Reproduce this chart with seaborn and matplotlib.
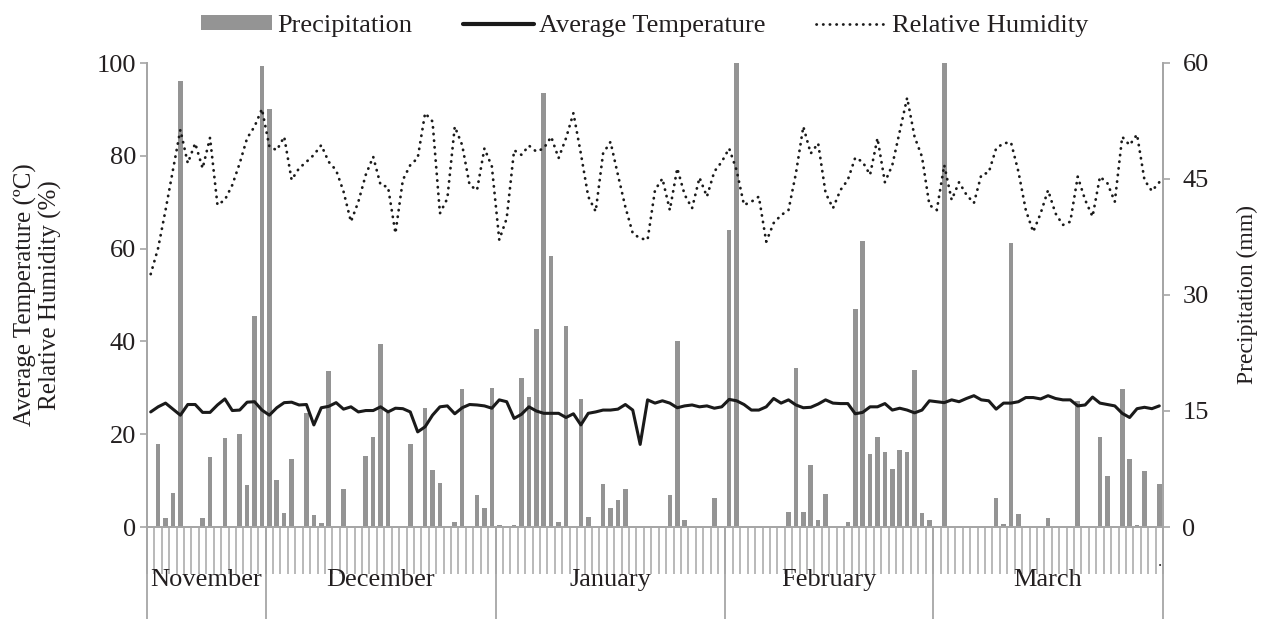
import numpy as np
import pandas as pd
import matplotlib
matplotlib.use("Agg")
import matplotlib.pyplot as plt
import seaborn as sns
from matplotlib.patches import Patch
from matplotlib.lines import Line2D

# ---------------- data ----------------
months = ["November", "December", "January", "February", "March"]
month_days = [16, 31, 31, 28, 31]  # 15 Nov .. 31 Mar

precipitation = [
    0, 10.7, 1.1, 4.4, 57.7, 0, 0, 1.1, 9.1, 0, 11.5, 0, 12.0, 5.4, 27.3, 59.6,
    54.1, 6.1, 1.8, 8.8, 0, 14.8, 1.5, 0.5, 20.2, 0, 4.9, 0, 0, 9.2, 11.6, 23.7,
    14.8, 0, 0, 10.7, 0, 15.4, 7.4, 5.7, 0, 0.6, 17.9, 0, 4.2, 2.5, 18.0,
    0.3, 0, 0.2, 19.3, 16.8, 25.6, 56.1, 35.0, 0.7, 26.0, 0, 16.6, 1.3, 0, 5.6,
    2.5, 3.5, 4.9, 0, 0, 0, 0, 0, 4.2, 24.1, 0.9, 0, 0, 0, 3.8, 0,
    38.4, 62.0, 0, 0, 0, 0, 0, 0, 2.0, 20.5, 1.9, 8.0, 0.9, 4.3, 0, 0,
    0.6, 28.2, 37.0, 9.4, 11.6, 9.7, 7.5, 10.0, 9.7, 20.3, 1.8, 0.95,
    0.15, 62.0, 0, 0.1, 0, 0, 0, 0, 3.8, 0.4, 36.7, 1.7, 0, 0, 0, 1.1, 0, 0, 0,
    16.3, 0, 0, 11.6, 6.6, 0, 17.9, 8.8, 0.3, 7.2, 0, 5.6,
]

temperature = [
    24.8, 25.9, 26.7, 25.4, 24.1, 26.4, 26.4, 24.7, 24.7, 26.3, 27.6, 25.1, 25.2, 26.9, 27.0, 25.2,
    24.1, 25.7, 26.8, 26.9, 26.3, 26.4, 22.0, 25.7, 26.0, 26.8, 25.4, 25.9, 24.8, 25.1, 25.1, 25.9,
    24.8, 25.6, 25.5, 24.8, 20.5, 21.6, 24.1, 25.9, 26.1, 24.4, 25.7, 26.4, 26.3, 26.1, 25.6,
    27.4, 27.0, 23.4, 24.3, 25.9, 25.0, 24.5, 24.5, 24.5, 23.6, 24.4, 22.0, 24.5, 24.8, 25.2,
    25.2, 25.4, 26.4, 25.2, 17.8, 27.4, 26.7, 27.2, 26.7, 25.7, 26.1, 26.3, 25.9, 26.1, 25.6, 25.9,
    27.5, 27.2, 26.4, 25.2, 25.2, 25.9, 27.7, 26.7, 27.4, 26.3, 25.7, 25.8, 26.5, 27.4, 26.7, 26.6,
    26.6, 24.4, 24.7, 25.9, 25.9, 26.6, 25.2, 25.6, 25.2, 24.6, 25.2, 27.2,
    27.0, 26.8, 27.4, 27.0, 27.7, 28.3, 27.4, 27.2, 25.4, 26.7, 26.7, 27.0, 27.9, 27.9, 27.6,
    28.3, 27.7, 27.4, 27.4, 26.1, 26.3, 28.0, 26.7, 26.4, 26.1, 24.5, 23.6, 25.5, 25.8, 25.5, 26.1,
]

humidity = [
    54.5, 60.1, 68.3, 76.9, 85.6, 78.4, 82.7, 77.3, 83.9, 69.4, 70.5, 73.7, 78.4, 83.8, 86.3, 90.1,
    82.0, 81.2, 84.1, 74.8, 77.3, 78.7, 80.2, 82.3, 78.7, 76.9, 72.3, 65.8, 70.1, 75.9, 79.8, 73.7,
    73.3, 63.3, 74.8, 78.0, 79.5, 89.2, 87.4, 67.6, 70.8, 86.3, 82.3, 73.7, 72.6, 81.6, 77.7,
    61.9, 66.5, 81.2, 80.2, 82.2, 80.9, 81.6, 84.1, 79.5, 83.8, 89.2, 80.5, 71.2, 68.0, 80.5,
    83.0, 75.9, 69.0, 63.3, 62.2, 61.9, 72.6, 75.1, 68.3, 77.3, 71.6, 68.7, 75.3, 71.2, 76.6, 78.7,
    81.6, 76.9, 69.4, 70.1, 71.2, 61.5, 65.5, 67.2, 68.3, 76.2, 86.3, 80.5, 82.7, 72.0, 68.7, 72.6,
    74.8, 79.6, 78.7, 75.9, 83.8, 74.3, 78.0, 85.2, 92.5, 84.1, 79.8, 69.4,
    68.3, 78.0, 70.5, 74.3, 71.6, 69.8, 75.9, 76.4, 81.6, 82.7, 82.9, 76.6, 68.3, 63.6, 67.6,
    72.6, 67.6, 65.1, 65.8, 75.5, 70.5, 66.9, 75.5, 74.1, 70.1, 84.1, 82.3, 84.6, 74.8, 72.4, 74.3,
]

left_ticks = [0, 20, 40, 60, 80, 100]
right_ticks = [0, 15, 30, 45, 60]

n_days = len(precipitation)
df = pd.DataFrame({
    "day": np.arange(n_days),
    "precipitation": precipitation,
    "temperature": temperature,
    "humidity": humidity,
})

# ---------------- style ----------------
sns.set_theme(style="white")
plt.rcParams["font.family"] = ["Liberation Serif", "DejaVu Serif"]
plt.rcParams["text.color"] = "#231f20"
plt.rcParams["axes.labelcolor"] = "#231f20"
plt.rcParams["xtick.color"] = "#a6a6a6"
plt.rcParams["ytick.color"] = "#a6a6a6"
plt.rcParams["xtick.labelcolor"] = "#231f20"
plt.rcParams["ytick.labelcolor"] = "#231f20"

FS = 19
W, H = 1261, 619
fig = plt.figure(figsize=(W / 100, H / 100), dpi=100)
x0, x1, y0, y1 = 147, 1163, 63, 527
ax = fig.add_axes([x0 / W, 1 - y1 / H, (x1 - x0) / W, (y1 - y0) / H])
ax2 = ax.twinx()

bar_color = "#949494"
BAR_W = 0.62
sns.barplot(data=df, x="day", y="precipitation", ax=ax2, order=list(range(n_days)),
            color=bar_color, saturation=1, width=BAR_W, errorbar=None)
for p in ax2.patches:
    c = p.get_x() + p.get_width() / 2
    p.set_width(BAR_W)
    p.set_x(c - BAR_W / 2)
    p.set_edgecolor("none")

sns.lineplot(data=df, x="day", y="temperature", ax=ax, color="#1a1a1a",
             linewidth=2.2)
sns.lineplot(data=df, x="day", y="humidity", ax=ax, color="#1a1a1a",
             linewidth=2.0)
hum_line = ax.get_lines()[-1]
hum_line.set_linestyle((0, (0.1, 2.3)))
hum_line.set_dash_capstyle("round")

ax.set_zorder(ax2.get_zorder() + 1)
ax.patch.set_visible(False)

ax.set_xlim(-0.5, n_days - 0.5)
ax.set_ylim(0, 100)
ax2.set_ylim(0, 60)

ax.set_yticks(left_ticks)
ax2.set_yticks(right_ticks)
ax.set_yticklabels([str(t) for t in left_ticks], fontsize=FS)
ax2.set_yticklabels([str(t) for t in right_ticks], fontsize=FS)
ax.tick_params(axis="y", length=5, width=1.2, pad=3, direction="out")
ax2.tick_params(axis="y", length=5, width=1.2, pad=9, direction="out")

for a in (ax, ax2):
    a.grid(False)
    for s in a.spines.values():
        s.set_color("#a6a6a6")
        s.set_linewidth(1.3)
    a.spines["top"].set_visible(False)

# category tick marks below the zero line
ax.set_xticks(np.arange(-0.5, n_days, 1.0))
ax.set_xticklabels([])
ax.tick_params(axis="x", length=34, width=1.1, direction="out", bottom=True)
ax2.tick_params(axis="x", bottom=False, labelbottom=False)
ax.set_xlabel("")
ax2.set_xlabel("")

# month separators and labels
bounds = np.concatenate([[0], np.cumsum(month_days)]) - 0.5
trans = ax.get_xaxis_transform()
bottom_frac = -(H - y1) / (y1 - y0)
for b in bounds:
    ax.plot([b, b], [0, bottom_frac], transform=trans, color="#a6a6a6",
            linewidth=1.3, clip_on=False)
for m, a_, b_ in zip(months, bounds[:-1], bounds[1:]):
    ax.text((a_ + b_) / 2, -(580 - y1) / (y1 - y0), m, transform=trans,
            ha="center", va="center", fontsize=FS)
fig.text(1160 / W, 1 - 562 / H, ".", fontsize=12, ha="center", va="center")

ax.set_ylabel("Average Temperature (ºC)\nRelative Humidity (%)", fontsize=18,
              labelpad=25, linespacing=1.1)
ax2.set_ylabel("Precipitation (mm)", fontsize=17, rotation=90, labelpad=20)

handles = [
    Patch(facecolor=bar_color, edgecolor="none", label="Precipitation"),
    Line2D([], [], color="#1a1a1a", linewidth=3.0, label="Average Temperature"),
    Line2D([], [], color="#1a1a1a", linewidth=2.0, linestyle=(0, (0.1, 2.3)),
           dash_capstyle="round", label="Relative Humidity"),
]
fig.legend(handles=handles, loc="center", bbox_to_anchor=(645 / W, 1 - 26 / H),
           ncol=3, frameon=False, fontsize=FS, handlelength=2.7,
           handleheight=0.5, handletextpad=0.2, columnspacing=1.9)

fig.savefig("out.png", dpi=100)
